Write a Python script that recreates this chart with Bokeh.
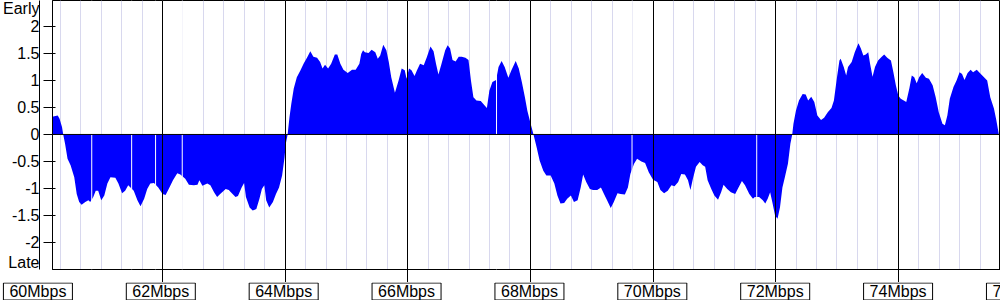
import numpy as np
from bokeh.plotting import figure
from bokeh.layouts import column
from bokeh.models import Range1d, FixedTicker, Grid, Span, LinearAxis
from bokeh.core.properties import value
from bokeh.embed import file_html
from bokeh.resources import INLINE

# ---- data ----
mbps = [60.20, 60.29, 60.32, 60.36, 60.38, 60.41, 60.45, 60.50, 60.56, 60.60,
        60.64, 60.68, 60.74, 60.79, 60.82, 60.87, 60.91, 60.95, 61.00, 61.05,
        61.10, 61.15, 61.23, 61.28, 61.34, 61.39, 61.44, 61.53, 61.59, 61.64,
        61.70, 61.75, 61.80, 61.86, 61.93, 62.00, 62.05, 62.10, 62.17, 62.24,
        62.29, 62.37, 62.43, 62.51, 62.57, 62.60, 62.65, 62.73, 62.78, 62.84,
        62.89, 62.94, 63.03, 63.08, 63.13, 63.19, 63.23, 63.29, 63.33, 63.36,
        63.42, 63.47, 63.53, 63.58, 63.62, 63.66, 63.69, 63.74, 63.80, 63.85,
        63.90, 63.95, 63.99, 64.01, 64.04, 64.07, 64.10, 64.14, 64.19, 64.25,
        64.30, 64.36, 64.41, 64.46, 64.52, 64.57, 64.61, 64.65, 64.70, 64.75,
        64.81, 64.85, 64.90, 64.95, 65.02, 65.09, 65.15, 65.21, 65.24, 65.27,
        65.30, 65.36, 65.41, 65.47, 65.51, 65.55, 65.60, 65.65, 65.69, 65.73,
        65.79, 65.85, 65.90, 65.95, 65.98, 66.02, 66.06, 66.11, 66.15, 66.20,
        66.26, 66.31, 66.37, 66.42, 66.46, 66.50, 66.55, 66.61, 66.65, 66.69,
        66.73, 66.78, 66.83, 66.88, 66.94, 66.99, 67.03, 67.07, 67.12, 67.19,
        67.25, 67.29, 67.33, 67.38, 67.44, 67.48, 67.53, 67.58, 67.64, 67.69,
        67.76, 67.81, 67.86, 67.91, 67.95, 68.01, 68.05, 68.10, 68.15, 68.21,
        68.26, 68.33, 68.39, 68.44, 68.49, 68.55, 68.60, 68.66, 68.71, 68.77,
        68.82, 68.86, 68.91, 68.97, 69.02, 69.09, 69.15, 69.20, 69.25, 69.31,
        69.36, 69.42, 69.47, 69.54, 69.59, 69.63, 69.69, 69.74, 69.81, 69.87,
        69.93, 70.00, 70.07, 70.12, 70.18, 70.24, 70.30, 70.35, 70.41, 70.46,
        70.52, 70.57, 70.61, 70.65, 70.70, 70.76, 70.81, 70.85, 70.89, 70.95,
        71.00, 71.06, 71.11, 71.15, 71.21, 71.27, 71.34, 71.39, 71.45, 71.50,
        71.57, 71.63, 71.66, 71.73, 71.79, 71.83, 71.87, 71.91, 71.95, 71.99,
        72.03, 72.07, 72.11, 72.15, 72.20, 72.24, 72.27, 72.29, 72.33, 72.38,
        72.44, 72.49, 72.53, 72.58, 72.63, 72.68, 72.74, 72.79, 72.85, 72.91,
        72.95, 73.00, 73.04, 73.06, 73.11, 73.15, 73.18, 73.24, 73.29, 73.35,
        73.39, 73.43, 73.47, 73.51, 73.54, 73.58, 73.62, 73.67, 73.73, 73.77,
        73.82, 73.88, 73.92, 73.96, 74.00, 74.04, 74.09, 74.13, 74.18, 74.22,
        74.26, 74.30, 74.34, 74.39, 74.45, 74.50, 74.56, 74.61, 74.66, 74.72,
        74.76, 74.80, 74.84, 74.90, 74.95, 75.00, 75.04, 75.08, 75.13, 75.18,
        75.22, 75.28, 75.33, 75.39, 75.45, 75.50, 75.56, 75.60, 75.64]

timing = [0.33, 0.35, 0.29, 0.14, 0.00, -0.17, -0.45, -0.57, -0.79, -1.10,
          -1.25, -1.30, -1.25, -1.22, -1.25, -1.16, -1.04, -1.04, -1.22, -1.13,
          -0.91, -0.79, -0.80, -0.91, -1.09, -1.04, -0.94, -1.04, -1.22, -1.33,
          -1.19, -1.01, -0.91, -0.90, -0.98, -1.10, -1.12, -1.01, -0.85, -0.72,
          -0.74, -0.82, -0.93, -0.94, -0.93, -0.85, -0.95, -0.91, -0.94, -1.07,
          -1.16, -1.10, -1.01, -1.03, -1.09, -1.16, -1.14, -0.98, -0.90, -1.16,
          -1.35, -1.41, -1.38, -1.19, -1.01, -0.94, -1.22, -1.35, -1.25, -1.10,
          -0.98, -0.76, -0.42, -0.17, 0.00, 0.32, 0.57, 0.85, 1.06, 1.19,
          1.31, 1.43, 1.54, 1.44, 1.42, 1.34, 1.22, 1.29, 1.22, 1.31,
          1.48, 1.48, 1.31, 1.20, 1.14, 1.20, 1.20, 1.31, 1.49, 1.56,
          1.52, 1.51, 1.57, 1.52, 1.40, 1.46, 1.66, 1.56, 1.34, 1.06,
          0.77, 1.00, 1.22, 1.19, 1.03, 1.22, 1.19, 1.08, 1.19, 1.31,
          1.28, 1.43, 1.63, 1.54, 1.31, 1.11, 1.31, 1.56, 1.65, 1.59,
          1.38, 1.35, 1.44, 1.44, 1.42, 1.38, 1.00, 0.69, 0.63, 0.62,
          0.54, 0.49, 0.81, 0.97, 1.01, 1.25, 1.36, 1.25, 1.05, 1.19,
          1.36, 1.22, 0.97, 0.69, 0.44, 0.17, 0.00, -0.23, -0.48, -0.67,
          -0.76, -0.76, -0.91, -1.13, -1.28, -1.27, -1.19, -1.13, -1.25, -1.22,
          -0.98, -0.74, -0.88, -1.01, -1.03, -1.03, -0.98, -1.10, -1.22, -1.36,
          -1.25, -1.09, -1.10, -1.11, -0.98, -0.73, -0.54, -0.45, -0.50, -0.53,
          -0.70, -0.84, -0.88, -1.03, -1.09, -1.04, -0.94, -0.96, -0.88, -0.73,
          -0.74, -0.85, -1.03, -0.82, -0.60, -0.51, -0.57, -0.60, -0.85, -1.01,
          -1.13, -1.21, -1.07, -0.93, -1.01, -1.07, -1.10, -0.99, -0.86, -0.94,
          -1.10, -1.19, -1.16, -1.16, -1.22, -1.28, -1.19, -1.07, -1.28, -1.50,
          -1.56, -1.35, -0.98, -0.79, -0.54, -0.17, 0.00, 0.20, 0.44, 0.63,
          0.75, 0.74, 0.63, 0.70, 0.60, 0.35, 0.27, 0.31, 0.41, 0.49,
          0.63, 1.06, 1.37, 1.40, 1.25, 1.09, 1.25, 1.34, 1.52, 1.69,
          1.59, 1.46, 1.48, 1.52, 1.31, 1.07, 1.25, 1.37, 1.44, 1.48,
          1.42, 1.37, 1.15, 0.91, 0.72, 0.66, 0.63, 0.60, 0.85, 1.09,
          1.06, 0.95, 1.06, 1.14, 1.05, 1.03, 0.91, 0.69, 0.41, 0.20,
          0.17, 0.35, 0.66, 0.88, 1.00, 1.15, 1.12, 1.01, 1.14, 1.20,
          1.15, 1.20, 1.14, 1.07, 1.00, 0.69, 0.48, 0.26, 0.00]

# thin white gaps (missing samples) in the filled area
gap_mbps = [60.845, 61.496, 61.886, 62.321, 67.447, 69.657, 71.691]

x_tick_values = [60, 62, 64, 66, 68, 70, 72, 74, 76]
x_tick_labels = ["60Mbps", "62Mbps", "64Mbps", "66Mbps", "68Mbps",
                 "70Mbps", "72Mbps", "74Mbps", "76Mbps"]
y_tick_values = [-2, -1.5, -1, -0.5, 0, 0.5, 1, 1.5, 2]
y_tick_labels = ["-2", "-1.5", "-1", "-0.5", "0", "0.5", "1", "1.5", "2"]
end_label_values = [2.33, -2.37]
end_labels = ["Early", "Late"]

FONT = "Liberation Sans"

# ---------------- main chart ----------------
p = figure(width=1000, height=282, output_backend="svg", toolbar_location=None,
           x_range=Range1d(60.205, 75.667), y_range=Range1d(-2.5, 2.48),
           min_border_left=50, min_border_right=0, min_border_top=0,
           min_border_bottom=13)
p.background_fill_color = "white"
p.border_fill_color = "white"
p.outline_line_color = "black"
p.xgrid.grid_line_color = None
p.ygrid.grid_line_color = None

xticker = FixedTicker(ticks=x_tick_values,
                      minor_ticks=list(np.arange(60, 76.001, 1.0 / 3.0)))

# minor vertical grid (under the fill)
p.add_layout(Grid(dimension=0, ticker=xticker, grid_line_color=None,
                  minor_grid_line_color="#d8d8ee", level="underlay"))

# filled area
p.varea(x=mbps, y1=0, y2=timing, fill_color="#0000ff", fill_alpha=1.0)

for g in gap_mbps:
    p.add_layout(Span(location=g, dimension="height", line_color="white",
                      line_width=1, level="annotation"))

# major vertical grid and zero line (over the fill)
p.add_layout(Grid(dimension=0, ticker=xticker, grid_line_color="black",
                  level="overlay"))
p.add_layout(Span(location=0, dimension="width", line_color="black",
                  line_width=1, level="overlay"))

# x axis: tick marks only (labels are drawn in the strip below)
xa = p.xaxis[0]
xa.ticker = xticker
xa.axis_line_color = "black"
xa.major_tick_line_color = "black"
xa.major_tick_in = 0
xa.major_tick_out = 13
xa.minor_tick_line_color = None
xa.major_label_text_alpha = 0
xa.major_label_text_font_size = "0px"
xa.major_label_standoff = 0

# y axis A: tick marks only
ya = p.yaxis[0]
ya.ticker = FixedTicker(ticks=y_tick_values)
ya.axis_line_color = "black"
ya.major_tick_line_color = "black"
ya.major_tick_in = 3
ya.major_tick_out = 9
ya.minor_tick_line_color = None
ya.major_label_text_alpha = 0
ya.major_label_text_font_size = "0px"
ya.major_label_standoff = 0

# y axis B: all labels (numbers plus Early / Late), no tick marks
all_y_ticks = y_tick_values + end_label_values
all_y_labels = y_tick_labels + end_labels
yb = LinearAxis(ticker=FixedTicker(ticks=all_y_ticks),
                major_label_overrides=dict(zip(all_y_ticks, all_y_labels)),
                axis_line_color=None, major_tick_line_color=None,
                minor_tick_line_color=None, major_tick_in=0, major_tick_out=0,
                major_label_standoff=4, major_label_text_font=FONT,
                major_label_text_font_size="16px",
                major_label_text_color="black")
p.add_layout(yb, "left")

# ---------------- boxed x tick labels strip ----------------
s = figure(width=1000, height=18, output_backend="svg", toolbar_location=None,
           x_range=Range1d(59.391, 75.667), y_range=Range1d(0, 18),
           min_border=0, min_border_left=0, min_border_right=0,
           min_border_top=0, min_border_bottom=0,
           x_axis_location=None, y_axis_location=None)
s.outline_line_color = None
s.background_fill_color = "white"
s.border_fill_color = "white"
s.grid.visible = False

aligned = True
try:
    p.frame_align = False
    s.frame_align = False
    aligned = False
except AttributeError:
    aligned = True
if aligned:
    # strip frame is forced to the main frame's 50..1000 px span
    s.x_range = Range1d(60.205, 75.667)

s.rect(x=x_tick_values, y=9, width=69, height=17, width_units="screen",
       height_units="screen", fill_color="white", line_color="black",
       line_width=1)
s.text(x=x_tick_values, y=9, text=x_tick_labels, text_align="center",
       text_baseline="middle", text_font=value(FONT),
       text_font_size=value("16px"), text_color="black")

layout = column(p, s, spacing=0)
open("out.html", "w").write(file_html(layout, INLINE))
